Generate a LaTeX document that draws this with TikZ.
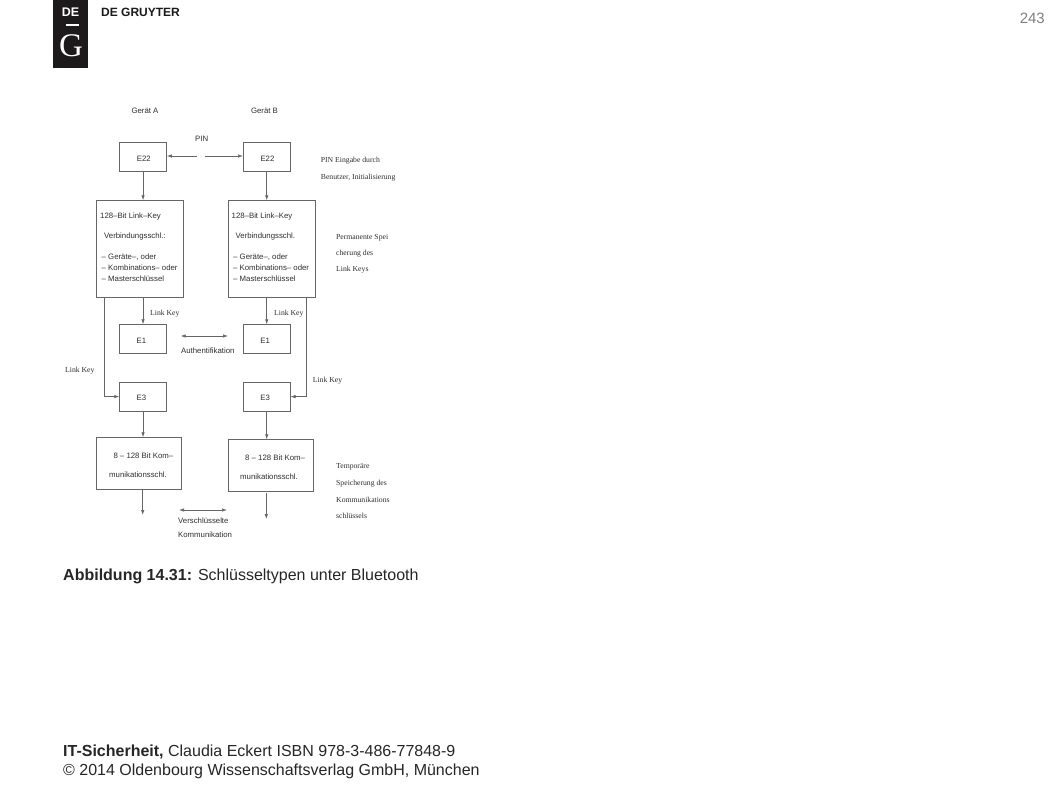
\documentclass[tikz,border=0pt]{standalone}
\usepackage{fontspec}
\setmainfont{Liberation Sans}
\newfontfamily\serifface{Liberation Serif}
\newfontfamily\logoserif{Liberation Serif}
\usetikzlibrary{arrows.meta}
\definecolor{ink}{HTML}{2E2E2E}
\definecolor{edge}{HTML}{666666}
\definecolor{foot}{HTML}{262626}
\definecolor{logo}{HTML}{1C1A1B}
\tikzset{
  boxshape/.style={draw=edge,line width=0.8pt,rectangle,inner sep=0pt,anchor=north west},
  smallbox/.style={boxshape,minimum width=46.7pt,minimum height=29pt},
  bigbox/.style={boxshape,minimum width=87pt,minimum height=97pt},
  commbox/.style={boxshape,minimum width=85.3pt,minimum height=51.6pt},
  sanslbl/.style={font=\fontsize{7.8}{10}\selectfont,text=ink,inner sep=0pt},
  seriflbl/.style={font=\serifface\fontsize{7.7}{10}\selectfont,text=ink,inner sep=0pt,anchor=west,yshift=-1.6pt},
  sansleft/.style={sanslbl,anchor=west,yshift=-0.9pt},
  conn/.style={draw=edge,line width=0.7pt,-{Latex[length=5pt,width=3.5pt]}},
  twoway/.style={draw=edge,line width=0.7pt,{Latex[length=5pt,width=3.5pt]}-{Latex[length=5pt,width=3.5pt]}},
  pagetext/.style={font=\fontsize{16}{18}\selectfont,text=foot,inner sep=0pt,anchor=base west}
}
\begin{document}
\begin{tikzpicture}[x=1pt,y=-1pt]
\useasboundingbox (0,0) rectangle (1058,794);
% publisher header
\node[fill=logo,minimum width=34.5pt,minimum height=67.5pt,inner sep=0pt,anchor=north west] (logobox) at (53,0) {};
\node[font=\bfseries\fontsize{12.5}{13}\selectfont,text=white,inner sep=0pt] (logode) at (70.5,12.7) {DE};
\draw[white,line width=1.2pt] (65.5,25) -- (79,25);
\node[font=\logoserif\fontsize{33}{34}\selectfont,text=white,inner sep=0pt] (logog) at (71,45.5) {G};
\node[font=\bfseries\fontsize{12}{13}\selectfont,text=logo,inner sep=0pt,anchor=west] (logoname) at (101,12.7) {DE GRUYTER};
\node[font=\fontsize{15}{16}\selectfont,text=gray,inner sep=0pt,anchor=base east] (pageno) at (1045,24) {243};
% boxes
\node[smallbox,label={[sanslbl,xshift=0.8pt,yshift=-1.7pt]center:E22}] (e22a) at (119.3,142.3) {};
\node[smallbox,label={[sanslbl,xshift=0.7pt,yshift=-1.7pt]center:E22}] (e22b) at (243,142.3) {};
\node[bigbox] (biga) at (96,200.3) {};
\node[bigbox] (bigb) at (227.5,200.3) {};
\node[smallbox,label={[sanslbl,xshift=-1.6pt,yshift=-1.2pt]center:E1}] (e1a) at (119.3,324.3) {};
\node[smallbox,label={[sanslbl,xshift=-1.6pt,yshift=-1.2pt]center:E1}] (e1b) at (243,324.3) {};
\node[smallbox,label={[sanslbl,xshift=-1.6pt,yshift=-1.2pt]center:E3}] (e3a) at (119.3,381.7) {};
\node[smallbox,label={[sanslbl,xshift=-1.6pt,yshift=-1.2pt]center:E3}] (e3b) at (243,381.7) {};
\node[commbox] (comma) at (96,437.3) {};
\node[commbox] (commb) at (227.5,439.3) {};
% free ends
\coordinate (pinl) at (196.7,156);
\coordinate (pinr) at (205,156);
\coordinate (authl) at (180.7,336);
\coordinate (authr) at (228,336);
\coordinate (encl) at (179,510);
\coordinate (encr) at (227,510);
\coordinate (enda) at (142.7,515);
\coordinate (startb) at (266.3,493);
\coordinate (endb) at (266.3,519);
\coordinate (lefttap) at (104,297.3);
\coordinate (righttap) at (306.7,297.3);
% connectors
\draw[conn] (pinl) -- (e22a.east |- pinl);
\draw[conn] (pinr) -- (e22b.west |- pinr);
\draw[conn] (e22a.south) -- (e22a.south |- biga.north);
\draw[conn] (e22b.south) -- (e22b.south |- bigb.north);
\draw[conn] (e1a.north |- biga.south) -- (e1a.north);
\draw[conn] (e1b.north |- bigb.south) -- (e1b.north);
\draw[conn] (lefttap) |- (e3a.west);
\draw[conn] (righttap) |- (e3b.east);
\draw[conn] (e3a.south) -- (e3a.south |- comma.north);
\draw[conn] (e3b.south) -- (e3b.south |- commb.north);
\draw[conn] (enda |- comma.south) -- (enda);
\draw[conn] (startb) -- (endb);
\draw[twoway] (authl) -- (authr);
\draw[twoway] (encl) -- (encr);
% sans labels
\node[sanslbl] (gera) at (145,110.7) {Gerät A};
\node[sanslbl] (gerb) at (264.5,110.7) {Gerät B};
\node[sanslbl] (pin) at (201.7,139) {PIN};
\node[sansleft] (a1) at (100,216) {128–Bit Link–Key};
\node[sansleft] (a2) at (104,235.7) {Verbindungsschl.:};
\node[sansleft] (a3) at (101.5,256) {– Geräte–, oder};
\node[sansleft] (a4) at (101.5,267) {– Kombinations– oder};
\node[sansleft] (a5) at (101.5,278) {– Masterschlüssel};
\node[sansleft] (b1) at (231.5,216) {128–Bit Link–Key};
\node[sansleft] (b2) at (235.5,235.7) {Verbindungsschl.};
\node[sansleft] (b3) at (233,256) {– Geräte–, oder};
\node[sansleft] (b4) at (233,267) {– Kombinations– oder};
\node[sansleft] (b5) at (233,278) {– Masterschlüssel};
\node[sansleft] (auth) at (181,350) {Authentifikation};
\node[sansleft] (enc1) at (178,520) {Verschlüsselte};
\node[sansleft] (enc2) at (178,534) {Kommunikation};
\node[sansleft] (ca1) at (113.3,455.3) {8 – 128 Bit Kom–};
\node[sansleft] (ca2) at (109,474.3) {munikationsschl.};
\node[sansleft] (cb1) at (245,457.3) {8 – 128 Bit Kom–};
\node[sansleft] (cb2) at (240,476.3) {munikationsschl.};
% serif labels
\node[seriflbl] (s1) at (320.7,159) {PIN Eingabe durch};
\node[seriflbl] (s2) at (320.7,176) {Benutzer, Initialisierung};
\node[seriflbl] (s3) at (336,235.7) {Permanente Spei};
\node[seriflbl] (s4) at (336,252) {cherung des};
\node[seriflbl] (s5) at (336,268) {Link Keys};
\node[seriflbl] (s6) at (336,465) {Temporäre};
\node[seriflbl] (s7) at (336,481.7) {Speicherung des};
\node[seriflbl] (s8) at (336,498) {Kommunikations};
\node[seriflbl] (s9) at (336,514) {schlüssels};
\node[seriflbl] (k1) at (150,311.7) {Link Key};
\node[seriflbl] (k2) at (274,311.7) {Link Key};
\node[seriflbl] (k3) at (65,369) {Link Key};
\node[seriflbl] (k4) at (312.7,378.7) {Link Key};
% caption and footer
\node[pagetext] (caption) at (63,580.5) {\textbf{Abbildung 14.31:} Schlüsseltypen unter Bluetooth};
\node[pagetext] (foot1) at (63,756) {\textbf{IT-Sicherheit,} Claudia Eckert ISBN 978-3-486-77848-9};
\node[pagetext] (foot2) at (63,775) {© 2014 Oldenbourg Wissenschaftsverlag GmbH, München};
\end{tikzpicture}
\end{document}
